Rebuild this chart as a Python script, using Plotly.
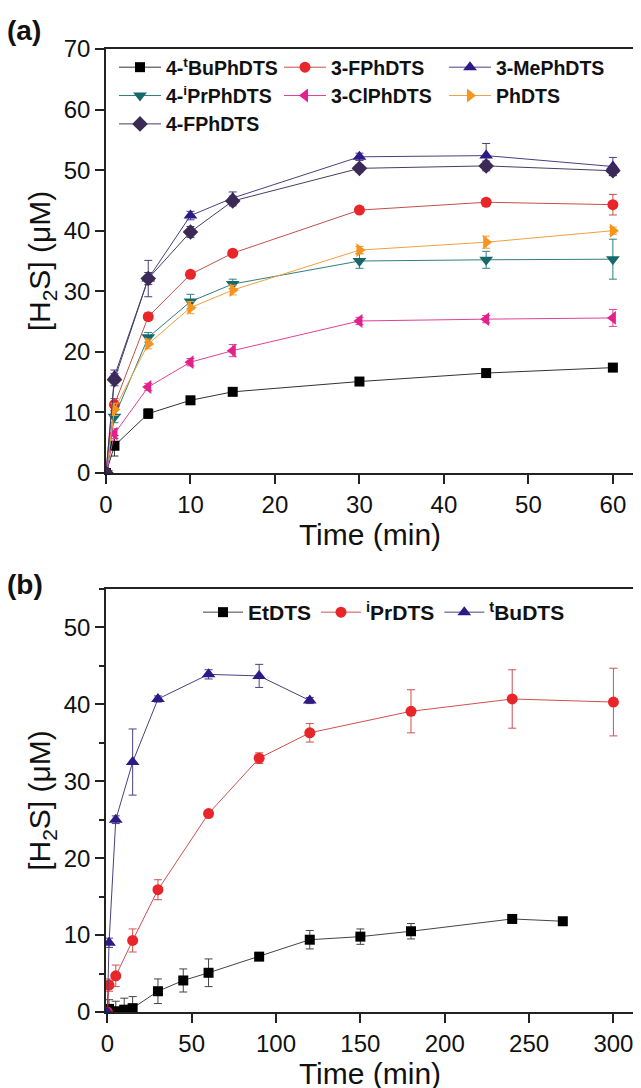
import plotly.graph_objects as go

# ---------- Panel (a) data ----------
time_a = [0, 1, 5, 10, 15, 30, 45, 60]
tBuPh = [0, 4.5, 9.8, 12.0, 13.4, 15.1, 16.5, 17.4]
tBuPh_err = [0, 1.7, 0.8, 0.4, 0.4, 0.4, 0.4, 0.4]
FPh3 = [0, 11.3, 25.8, 32.8, 36.3, 43.4, 44.7, 44.3]
FPh3_err = [0, 1.0, 0.6, 0.5, 0.5, 0.4, 0.6, 1.7]
MePh3 = [0, 16.0, 32.1, 42.5, 45.4, 52.2, 52.4, 50.6]
MePh3_err = [0, 1.0, 3.0, 0.7, 1.0, 0.6, 2.0, 1.5]
iPrPh4 = [0, 9.3, 22.4, 28.3, 31.2, 35.0, 35.2, 35.3]
iPrPh4_err = [0, 1.0, 0.8, 1.2, 0.8, 1.2, 1.4, 3.3]
ClPh3 = [0, 6.5, 14.2, 18.3, 20.2, 25.1, 25.4, 25.6]
ClPh3_err = [0, 0.8, 0.6, 0.6, 1.0, 0.6, 0.6, 1.4]
Ph = [0, 10.5, 21.3, 27.3, 30.2, 36.8, 38.1, 40.0]
Ph_err = [0, 1.0, 0.8, 1.0, 0.8, 0.6, 1.0, 0.6]
FPh4 = [0, 15.4, 32.1, 39.8, 44.9, 50.3, 50.7, 49.9]
FPh4_err = [0, 1.0, 1.0, 0.9, 0.8, 0.6, 0.8, 0.8]

# ---------- Panel (b) data ----------
time_Et = [0, 1, 5, 10, 15, 30, 45, 60, 90, 120, 150, 180, 240, 270]
Et = [0, 0.4, 0.1, 0.3, 0.5, 2.7, 4.1, 5.1, 7.2, 9.4, 9.8, 10.5, 12.1, 11.8]
Et_err = [0, 1.2, 1.3, 1.5, 1.5, 1.6, 1.5, 1.8, 0.4, 1.2, 1.0, 1.0, 0.4, 0.4]
time_iPr = [0, 1, 5, 15, 30, 60, 90, 120, 180, 240, 300]
iPr = [0, 3.5, 4.7, 9.3, 15.9, 25.8, 33.0, 36.3, 39.1, 40.7, 40.3]
iPr_err = [0, 0.8, 1.4, 1.5, 1.3, 0.4, 0.7, 1.2, 2.8, 3.8, 4.4]
time_tBu = [0, 1, 5, 15, 30, 60, 90, 120]
tBu = [0, 9.0, 25.0, 32.5, 40.7, 43.9, 43.7, 40.5]
tBu_err = [0, 0.6, 0.5, 4.3, 0.4, 0.6, 1.5, 0.4]

FONT = "Liberation Sans, Arial, sans-serif"

series_a = [
    ("4-<sup>t</sup>BuPhDTS", tBuPh, tBuPh_err, "#000000", "#333333", "square", 10),
    ("3-FPhDTS", FPh3, FPh3_err, "#e8262a", "#c0504d", "circle", 11),
    ("3-MePhDTS", MePh3, MePh3_err, "#2e1a87", "#4a4080", "triangle-up", 12),
    ("4-<sup>i</sup>PrPhDTS", iPrPh4, iPrPh4_err, "#17686a", "#2f7f80", "triangle-down", 12),
    ("3-ClPhDTS", ClPh3, ClPh3_err, "#e4208c", "#e0409a", "triangle-left", 12),
    ("PhDTS", Ph, Ph_err, "#f7941d", "#f0a040", "triangle-right", 12),
    ("4-FPhDTS", FPh4, FPh4_err, "#3b2a55", "#4a3d60", "diamond", 12),
]

series_b = [
    ("EtDTS", time_Et, Et, Et_err, "#000000", "#444444", "square", 10),
    ("<sup>i</sup>PrDTS", time_iPr, iPr, iPr_err, "#e8262a", "#d05050", "circle", 11),
    ("<sup>t</sup>BuDTS", time_tBu, tBu, tBu_err, "#2e1a87", "#4a4080", "triangle-up", 12),
]

fig = go.Figure()

for name, y, err, mc, lc, sym, sz in series_a:
    fig.add_trace(go.Scatter(
        x=time_a, y=y, name=name, mode="lines+markers",
        line=dict(color=lc, width=1),
        marker=dict(color=mc, symbol=sym, size=sz, line=dict(width=0)),
        error_y=dict(type="data", array=err, visible=True, color=lc, thickness=1, width=4),
        xaxis="x", yaxis="y", legend="legend", cliponaxis=True,
    ))

for name, x, y, err, mc, lc, sym, sz in series_b:
    fig.add_trace(go.Scatter(
        x=x, y=y, name=name, mode="lines+markers",
        line=dict(color=lc, width=1),
        marker=dict(color=mc, symbol=sym, size=sz, line=dict(width=0)),
        error_y=dict(type="data", array=err, visible=True, color=lc, thickness=1, width=4),
        xaxis="x2", yaxis="y2", legend="legend2", cliponaxis=True,
    ))

axis_common = dict(
    showline=True, linecolor="#222222", linewidth=1.5, mirror=True,
    ticks="outside", ticklen=9, tickwidth=1.5, tickcolor="#222222",
    showgrid=False, zeroline=False,
    tickfont=dict(family=FONT, size=24, color="#111111"),
)

# page offset (browser body margin)
OFF = 8
H = 1088
W = 641
top_a = 49 - OFF
bot_a = 473 - OFF
top_b = 589 - OFF
bot_b = 1012 - OFF
left = 106 - OFF
right = 634 - OFF
t_m = top_a
b_m = H - bot_b
ph = H - t_m - b_m
pw = right - left

def py(p):
    return (H - b_m - p) / ph

def px(p):
    return (p - left) / pw

title_font = dict(family=FONT, size=30, color="#111111")

fig.update_layout(
    width=W, height=H,
    margin=dict(l=left, r=W - right, t=t_m, b=b_m),
    paper_bgcolor="white", plot_bgcolor="white",
    font=dict(family=FONT, color="#111111"),
    xaxis=dict(axis_common, domain=[0, 1], range=[0, 62.5], dtick=10, anchor="y",
               title=dict(text="Time (min)", font=title_font, standoff=3)),
    yaxis=dict(axis_common, domain=[py(bot_a), py(top_a)], range=[0, 70], dtick=10, anchor="x",
               title=dict(text="[H<sub>2</sub>S] (μM)", font=title_font, standoff=4)),
    xaxis2=dict(axis_common, domain=[0, 1], range=[-0.8, 312.2], dtick=50, anchor="y2",
                title=dict(text="Time (min)", font=title_font, standoff=3)),
    yaxis2=dict(axis_common, domain=[py(bot_b), py(top_b)], range=[0, 55], dtick=10, anchor="x2",
                minor=dict(dtick=5, ticks="outside", ticklen=5, tickwidth=1.5, tickcolor="#222222"),
                title=dict(text="[H<sub>2</sub>S] (μM)", font=title_font, standoff=4)),
    legend=dict(
        orientation="h", x=px(114 - OFF), y=py(48 - OFF), xanchor="left", yanchor="top",
        entrywidth=108, entrywidthmode="pixels", itemwidth=42,
        font=dict(family=FONT, size=19.5, color="#111111", weight="bold"),
        bgcolor="rgba(0,0,0,0)",
    ),
    legend2=dict(
        orientation="h", x=px(198 - OFF), y=py(592 - OFF), xanchor="left", yanchor="top",
        itemwidth=40,
        font=dict(family=FONT, size=21, color="#111111", weight="bold"),
        bgcolor="rgba(0,0,0,0)",
    ),
    annotations=[
        dict(text="<b>(a)</b>", x=px(5 - OFF), y=py(31 - OFF), xref="paper", yref="paper",
             xanchor="left", yanchor="middle", showarrow=False,
             font=dict(family=FONT, size=28, color="#111111")),
        dict(text="<b>(b)</b>", x=px(5 - OFF), y=py(584 - OFF), xref="paper", yref="paper",
             xanchor="left", yanchor="middle", showarrow=False,
             font=dict(family=FONT, size=28, color="#111111")),
    ],
    showlegend=True,
)

fig.write_html("out.html")
